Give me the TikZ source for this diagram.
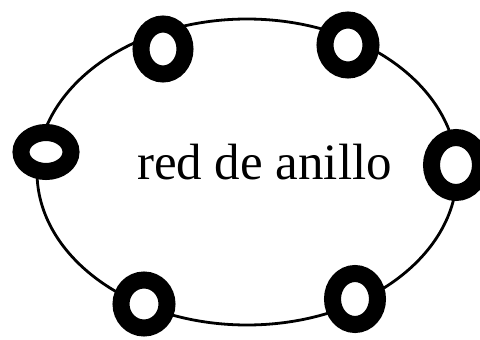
\documentclass[tikz,border=0pt]{standalone}
\usepackage{fontspec}
\setmainfont{Liberation Serif}
\usetikzlibrary{shapes.geometric}
\tikzset{
  estacion/.style={ellipse, draw=black, fill=white, line width=17pt, inner sep=0pt},
}
\begin{document}
\begin{tikzpicture}[x=1pt,y=-1pt]
  \useasboundingbox (0,0) rectangle (480,340);
  \fill[white] (0,0) rectangle (480,340);

  \draw[line width=2.8pt] (247,172) ellipse [x radius=210pt, y radius=153pt];

\node[estacion, minimum width=44pt, minimum height=50pt] (e1) at (163,49){};
\node[estacion, minimum width=46pt, minimum height=50pt] (e2) at (348,45){};
\node[estacion, minimum width=50pt, minimum height=39pt] (e3) at (46,152){};
\node[estacion, minimum width=49pt, minimum height=55pt] (e4) at (456,165){};
\node[estacion, minimum width=46pt, minimum height=48pt] (e5) at (144,304){};
\node[estacion, minimum width=45pt, minimum height=51pt] (e6) at (355,299){};

\node[anchor=base, inner sep=0pt] (titulo) at (264.5,179){\fontsize{51}{60}\selectfont red de anillo};
\end{tikzpicture}
\end{document}
